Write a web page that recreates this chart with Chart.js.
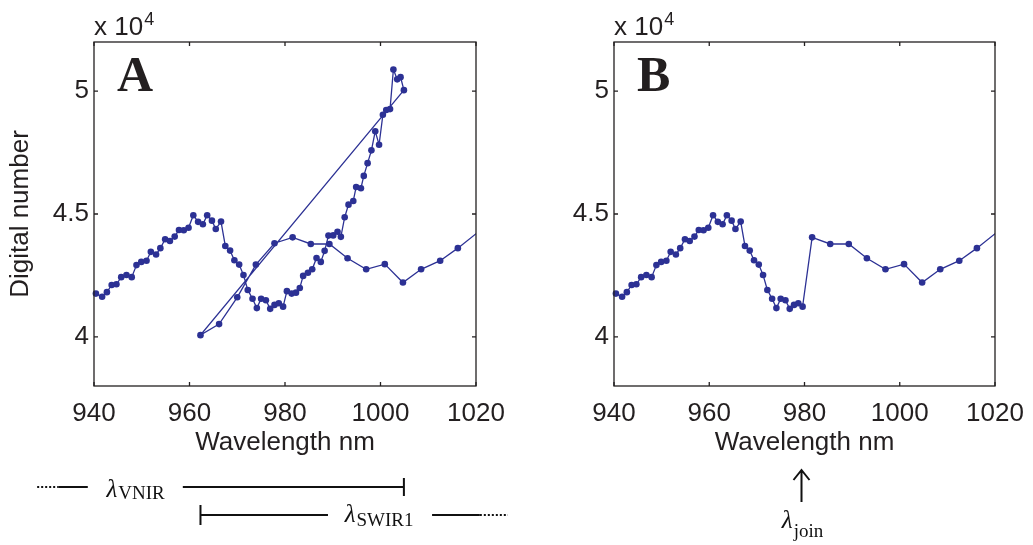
<!DOCTYPE html>
<html>
<head>
<meta charset="utf-8">
<script src="https://cdn.jsdelivr.net/npm/chart.js"></script>
<style>
  body { margin: 0; background: #fff; overflow: hidden; }
  #wrap { position: relative; width: 1033px; height: 545px; overflow: hidden; }
  canvas { position: absolute; top: 0; }
</style>
</head>
<body>
<div id="wrap">
  <canvas id="chartA" width="520" height="545" style="left:0px"></canvas>
  <canvas id="chartB" width="516" height="545" style="left:520px"></canvas>
</div>
<script>
// tick positions
const xTicks = [940, 960, 980, 1000, 1020];
const yTicks = [40000, 45000, 50000];

// VNIR detector samples (nm, DN)
const vnirWl = [940.4, 941.7, 942.7, 943.7, 944.7, 945.7, 946.8, 947.9, 948.9, 949.9,
  951.0, 951.9, 953.0, 953.9, 954.9, 955.9, 956.9, 957.8, 958.8, 959.8,
  960.8, 961.8, 962.8, 963.7, 964.7, 965.5, 966.6, 967.5, 968.5, 969.4,
  970.4, 971.3, 972.2, 973.2, 974.1, 975.0, 976.0, 976.9, 977.8, 978.7,
  979.6, 980.4, 981.4, 982.3, 983.1, 983.8, 984.8, 985.7, 986.6, 987.5,
  988.3, 989.1, 990.1, 991.0, 991.7, 992.5, 993.3, 994.3, 994.9, 995.9,
  996.5, 997.3, 998.1, 998.9, 999.7, 1000.5, 1001.2, 1002.0, 1002.7, 1003.5,
  1004.2, 1004.9];
const vnirDn = [41760, 41630, 41820, 42110, 42140, 42430, 42520, 42430, 42920, 43050,
  43100, 43460, 43350, 43610, 43970, 43900, 44080, 44350, 44340, 44440,
  44950, 44680, 44580, 44950, 44730, 44390, 44690, 43700, 43510, 43120,
  42940, 42520, 41910, 41550, 41170, 41550, 41490, 41140, 41300, 41370,
  41230, 41860, 41760, 41800, 41990, 42480, 42610, 42750, 43210, 43050,
  43500, 44120, 44130, 44280, 44070, 44870, 45380, 45530, 46100, 46050,
  46550, 47070, 47590, 48370, 47820, 49040, 49230, 49270, 50880, 50480,
  50570, 50040];

// SWIR1 detector samples (nm, DN)
const swirWl = [962.3, 966.2, 970.0, 973.9, 977.8, 981.6, 985.4, 989.3, 993.1, 997.0,
  1000.9, 1004.7, 1008.5, 1012.5, 1016.2, 1023.9];
const swirDn = [40070, 40520, 41610, 42940, 43810, 44050, 43780, 43780, 43200, 42750,
  42960, 42210, 42750, 43100, 43610, 44800];

const joinWl = 980;

const ink = '#231f20';
const lineBlue = '#2c3194';
const sans = '"Liberation Sans", Arial, Helvetica, sans-serif';
const serif = '"Liberation Serif", "Times New Roman", serif';

Chart.defaults.font.family = sans;
Chart.defaults.font.size = 26;
Chart.defaults.color = ink;

function pts(wl, dn) {
  return wl.map((w, i) => ({ x: w, y: dn[i] }));
}

const vnirPts = pts(vnirWl, vnirDn);
const swirPts = pts(swirWl, swirDn);
// A: both records one after the other, B: cut at the join wavelength
const rawSeries = vnirPts.concat(swirPts);
const joinedSeries = vnirPts.filter(p => p.x < joinWl).concat(swirPts.filter(p => p.x > joinWl));

// box round the axes, inward ticks, exponent and panel letter
const axesBox = {
  id: 'axesBox',
  afterDraw(chart, args, opts) {
    const { ctx, chartArea: a, scales: { x, y } } = chart;
    ctx.save();
    ctx.strokeStyle = ink;
    ctx.lineWidth = 1.3;
    ctx.beginPath();
    xTicks.forEach(v => {
      const px = x.getPixelForValue(v);
      ctx.moveTo(px, a.bottom); ctx.lineTo(px, a.bottom - 4);
      ctx.moveTo(px, a.top); ctx.lineTo(px, a.top + 4);
    });
    yTicks.forEach(v => {
      const py = y.getPixelForValue(v);
      ctx.moveTo(a.left, py); ctx.lineTo(a.left + 4, py);
      ctx.moveTo(a.right, py); ctx.lineTo(a.right - 4, py);
    });
    ctx.stroke();
    ctx.strokeRect(a.left, a.top, a.right - a.left, a.bottom - a.top);

    ctx.fillStyle = ink;
    ctx.textBaseline = 'alphabetic';
    ctx.textAlign = 'left';
    ctx.font = '26px ' + sans;
    ctx.fillText('x 10', a.left, a.top - 7);
    const w = ctx.measureText('x 10').width;
    ctx.font = '18px ' + sans;
    ctx.fillText('4', a.left + w + 1, a.top - 17);

    ctx.font = 'bold 50px ' + serif;
    ctx.fillText(opts.letter, a.left + 23, a.top + 49);
    ctx.restore();
  }
};

function lambda(ctx, cx, base, sub, drop) {
  const lamFont = 'italic 25px ' + serif;
  const subFont = '19px ' + serif;
  ctx.font = lamFont;
  const lw = ctx.measureText('λ').width;
  ctx.font = subFont;
  const sw = ctx.measureText(sub).width;
  const x0 = cx - (lw + 1 + sw) / 2;
  ctx.font = lamFont;
  ctx.fillText('λ', x0, base);
  ctx.font = subFont;
  ctx.fillText(sub, x0 + lw + 1, base + drop);
}

// wavelength ranges of the two detectors, under panel A
const bandMarks = {
  id: 'bandMarks',
  afterDraw(chart) {
    const { ctx, scales: { x } } = chart;
    const px = v => x.getPixelForValue(v);
    const vEnd = vnirWl[vnirWl.length - 1];
    const sStart = swirWl[0];
    ctx.save();
    ctx.strokeStyle = '#111';
    ctx.fillStyle = '#111';
    ctx.lineWidth = 2;

    // VNIR
    const y1 = 487;
    ctx.setLineDash([2, 2]);
    ctx.beginPath(); ctx.moveTo(px(928.1), y1); ctx.lineTo(px(932.5), y1); ctx.stroke();
    ctx.setLineDash([]);
    ctx.beginPath();
    ctx.moveTo(px(932.5), y1); ctx.lineTo(px(938.7), y1);
    ctx.moveTo(px(958.6), y1); ctx.lineTo(px(vEnd), y1);
    ctx.moveTo(px(vEnd), y1 - 9); ctx.lineTo(px(vEnd), y1 + 9);
    ctx.stroke();
    lambda(ctx, px(948.7), 497, 'VNIR', 2);

    // SWIR1
    const y2 = 515;
    ctx.beginPath();
    ctx.moveTo(px(sStart), y2 - 10); ctx.lineTo(px(sStart), y2 + 10);
    ctx.moveTo(px(sStart), y2); ctx.lineTo(px(989.0), y2);
    ctx.moveTo(px(1010.8), y2); ctx.lineTo(px(1020.8), y2);
    ctx.stroke();
    ctx.setLineDash([2, 2]);
    ctx.beginPath(); ctx.moveTo(px(1020.8), y2); ctx.lineTo(px(1026.7), y2); ctx.stroke();
    ctx.setLineDash([]);
    lambda(ctx, px(999.7), 522, 'SWIR1', 4);
    ctx.restore();
  }
};

// arrow at the join wavelength, under panel B
const joinMark = {
  id: 'joinMark',
  afterDraw(chart) {
    const { ctx, scales: { x } } = chart;
    const ax = x.getPixelForValue(joinWl) - 3;
    ctx.save();
    ctx.strokeStyle = '#111';
    ctx.fillStyle = '#111';
    ctx.lineWidth = 2;
    ctx.beginPath();
    ctx.moveTo(ax, 502); ctx.lineTo(ax, 470);
    ctx.moveTo(ax - 8, 480); ctx.lineTo(ax, 470); ctx.lineTo(ax + 8, 480);
    ctx.stroke();
    lambda(ctx, ax + 1, 528, 'join', 9);
    ctx.restore();
  }
};

function makePanel(id, data, letter, yTitle, rightPad, extra) {
  return new Chart(document.getElementById(id), {
    type: 'scatter',
    data: {
      datasets: [{
        data: data,
        showLine: true,
        borderColor: lineBlue,
        backgroundColor: lineBlue,
        borderWidth: 1.3,
        pointRadius: 3.3,
        pointHoverRadius: 3.3,
        pointBorderWidth: 0,
        tension: 0,
        clip: { left: 4, top: 4, right: 0, bottom: 0 }
      }]
    },
    options: {
      responsive: false,
      animation: false,
      events: [],
      layout: { padding: { left: 0, top: 42, right: rightPad, bottom: 84 } },
      plugins: {
        legend: { display: false },
        tooltip: { enabled: false },
        axesBox: { letter: letter }
      },
      scales: {
        x: {
          type: 'linear',
          min: 940,
          max: 1020,
          afterBuildTicks: s => { s.ticks = xTicks.map(v => ({ value: v })); },
          afterFit: s => { s.height = 75; },
          grid: { display: false, drawTicks: false },
          border: { display: false },
          ticks: { padding: 12, maxRotation: 0, autoSkip: false, callback: v => String(v) },
          title: { display: true, text: 'Wavelength nm', padding: { top: 0, bottom: 3 } }
        },
        y: {
          type: 'linear',
          min: 38000,
          max: 52000,
          afterBuildTicks: s => { s.ticks = yTicks.map(v => ({ value: v })); },
          afterFit: s => { s.width = 94; },
          grid: { display: false, drawTicks: false },
          border: { display: false },
          ticks: { padding: 5, callback: v => String(v / 10000) },
          title: { display: yTitle, text: 'Digital number', padding: { top: 5, bottom: 0 } }
        }
      }
    },
    plugins: [axesBox, extra]
  });
}

makePanel('chartA', rawSeries, 'A', true, 44, bandMarks);
makePanel('chartB', joinedSeries, 'B', false, 41, joinMark);
</script>
</body>
</html>
